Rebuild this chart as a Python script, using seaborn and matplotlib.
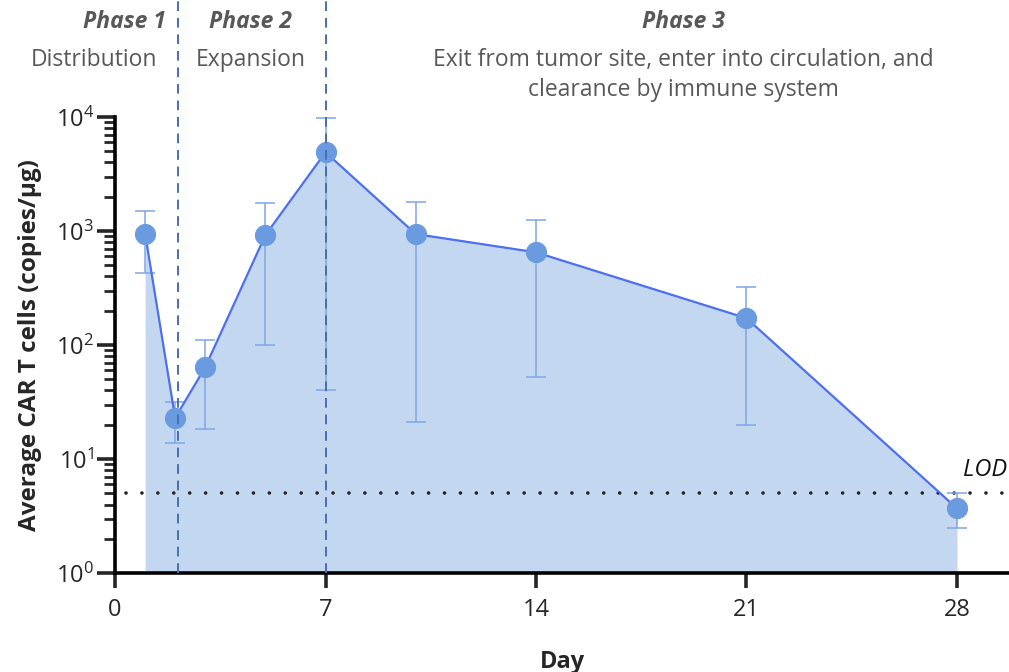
import numpy as np
import pandas as pd
import matplotlib
matplotlib.use("Agg")
import matplotlib.pyplot as plt
import matplotlib.transforms as mtransforms
from matplotlib.ticker import LogLocator, LogFormatterMathtext, NullFormatter
import seaborn as sns

# Mean CAR T cell levels by study day, with upper/lower error limits
days = [1, 2, 3, 5, 7, 10, 14, 21, 28]
mean_copies = [950, 23, 64, 920, 4900, 940, 650, 172, 3.7]
upper_copies = [1500, 32, 110, 1750, 9700, 1800, 1250, 320, 5.0]
lower_copies = [430, 13.8, 18.3, 100, 40, 21, 53, 19.8, 2.5]

lod_value = 5.0
phase_bounds = [2.1, 7]
x_ticks = [0, 7, 14, 21, 28]

phase_titles = ["Phase 1", "Phase 2", "Phase 3"]
phase_descs = ["Distribution", "Expansion",
               "Exit from tumor site, enter into circulation, and\nclearance by immune system"]
title_centers = [0.3, 4.5, 18.9]  # in day units
desc_centers = [-0.7, 4.5, 18.9]

df = pd.DataFrame({"Day": days, "Copies": mean_copies,
                   "Upper": upper_copies, "Lower": lower_copies})

sns.set_style("ticks")
plt.rcParams["font.family"] = ["Open Sans", "DejaVu Sans"]
plt.rcParams["mathtext.fontset"] = "custom"
plt.rcParams["mathtext.rm"] = "Open Sans"

fig = plt.figure(figsize=(10.09, 6.72), dpi=100)
ax = fig.add_axes([0.114, 0.147, 0.886, 0.679])

line_c = "#4D6FF0"
marker_c = "#6A9BE0"
fill_c = "#C3D7F1"
err_c = "#7EA6E6"
dash_c = "#4A6DB2"
text_gray = "#585858"

# shaded area under the curve
ax.fill_between(df["Day"], df["Copies"], 1, color=fill_c, lw=0, zorder=1)

# error bars
ax.errorbar(df["Day"], df["Copies"],
            yerr=[df["Copies"] - df["Lower"], df["Upper"] - df["Copies"]],
            fmt="none", ecolor=err_c, elinewidth=1.1, capsize=7.5, capthick=1.1, zorder=3)

# mean line with markers
sns.lineplot(data=df, x="Day", y="Copies", ax=ax, color=line_c, lw=1.6,
             marker="o", markersize=14.5, markerfacecolor=marker_c,
             markeredgecolor=marker_c, zorder=4)

# limit of detection
ax.plot([0.35, 29.8], [lod_value, lod_value], color="#222222", lw=2.6,
        linestyle=(0, (0.01, 4.4)), dash_capstyle="round", zorder=2, clip_on=False)
ax.text(28.2, lod_value * 1.6, "LOD", style="italic", fontsize=17,
        color="#111111", ha="left", va="center")

# phase boundaries extending above the plot area
trans = mtransforms.blended_transform_factory(ax.transData, ax.transAxes)
for xb in phase_bounds:
    ax.plot([xb, xb], [0, 1.26], transform=trans, color=dash_c, lw=1.4,
            linestyle=(0, (5, 3.5)), clip_on=False, zorder=5)

# phase annotations
for xt, xd, title, desc in zip(title_centers, desc_centers, phase_titles, phase_descs):
    ax.text(xt, 1.209, title, transform=trans, ha="center", va="center",
            fontsize=16.5, fontweight="bold", style="italic", color=text_gray)
    ax.text(xd, 1.152, desc, transform=trans, ha="center", va="top",
            fontsize=16.5, color=text_gray, linespacing=1.38)

ax.set_yscale("log")
ax.set_ylim(1, 1e4)
ax.set_xlim(0, 29.73)
ax.set_xticks(x_ticks)
ax.yaxis.set_major_locator(LogLocator(base=10, numticks=10))
ax.yaxis.set_major_formatter(LogFormatterMathtext())
ax.yaxis.set_minor_locator(LogLocator(base=10, subs=np.arange(2, 10), numticks=10))
ax.yaxis.set_minor_formatter(NullFormatter())

for side in ["top", "right"]:
    ax.spines[side].set_visible(False)
for side in ["left", "bottom"]:
    ax.spines[side].set_linewidth(2.6)
    ax.spines[side].set_color("black")

ax.tick_params(axis="x", which="major", length=11, width=2.6, labelsize=17, pad=7)
ax.tick_params(axis="y", which="major", length=13, width=2.6, labelsize=17, pad=2)
ax.tick_params(axis="y", which="minor", length=8, width=2.0)

ax.set_xlabel("Day", fontsize=17, fontweight="bold", labelpad=20)
ax.set_ylabel("Average CAR T cells (copies/µg)", fontsize=17.5, fontweight="bold", labelpad=10)

fig.savefig("out.png", dpi=100)
